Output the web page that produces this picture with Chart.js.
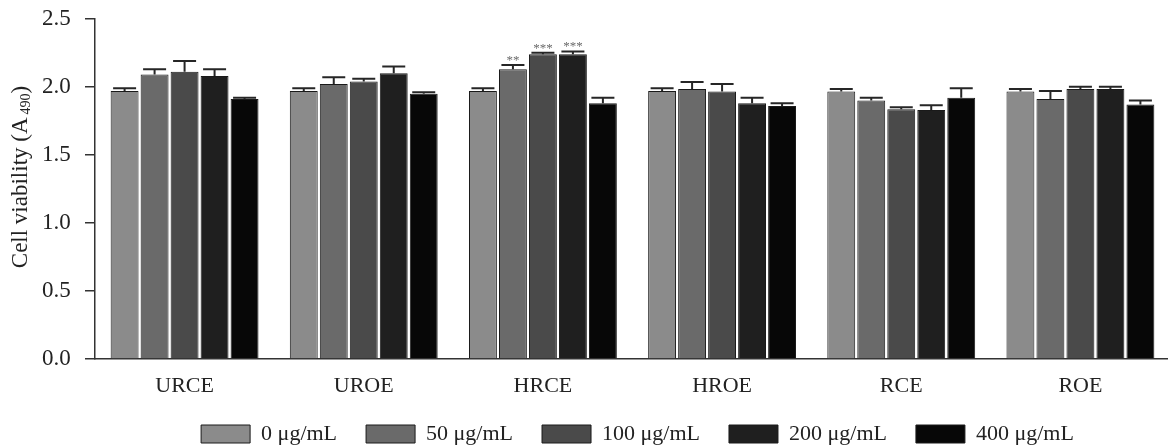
<!DOCTYPE html>
<html>
<head>
<meta charset="utf-8">
<script src="https://cdn.jsdelivr.net/npm/chart.js@4/dist/chart.umd.min.js"></script>
<style>
html,body{margin:0;padding:0;background:#fff;overflow:hidden;width:1168px;height:448px}
#wrap{width:1170px;height:448px;position:relative}
canvas{display:block}
</style>
</head>
<body>
<div id="wrap"><canvas id="c" width="1170" height="448"></canvas></div>
<script>
// ---- data ----
const categories = ['URCE', 'UROE', 'HRCE', 'HROE', 'RCE', 'ROE'];
const seriesLabels = ['0 \u03bcg/mL', '50 \u03bcg/mL', '100 \u03bcg/mL', '200 \u03bcg/mL', '400 \u03bcg/mL'];
const dose0   = [1.97, 1.97, 1.97, 1.97, 1.965, 1.965];
const dose50  = [2.09, 2.02, 2.13, 1.985, 1.90, 1.91];
const dose100 = [2.11, 2.04, 2.24, 1.965, 1.835, 1.985];
const dose200 = [2.08, 2.10, 2.24, 1.88, 1.83, 1.985];
const dose400 = [1.91, 1.95, 1.88, 1.86, 1.92, 1.87];
const err0   = [0.02, 0.02, 0.02, 0.02, 0.02, 0.02];
const err50  = [0.04, 0.05, 0.03, 0.05, 0.02, 0.06];
const err100 = [0.08, 0.02, 0.01, 0.055, 0.015, 0.015];
const err200 = [0.05, 0.05, 0.02, 0.04, 0.035, 0.015];
const err400 = [0.01, 0.01, 0.04, 0.02, 0.07, 0.03];
const sig0   = ['', '', '', '', '', ''];
const sig50  = ['', '', '**', '', '', ''];
const sig100 = ['', '', '***', '', '', ''];
const sig200 = ['', '', '***', '', '', ''];
const sig400 = ['', '', '', '', '', ''];
const yTicks = [0, 0.5, 1.0, 1.5, 2.0, 2.5];
const yTitleMain = 'Cell viability (A';
const yTitleSub = '490';
const yTitleEnd = ')';

const seriesValues = [dose0, dose50, dose100, dose200, dose400];
const seriesErrors = [err0, err50, err100, err200, err400];
const seriesSig = [sig0, sig50, sig100, sig200, sig400];
const fills = ['#8b8b8b', '#6a6a6a', '#4a4a4a', '#1f1f1f', '#070707'];

const SERIF = '"Liberation Serif", "Times New Roman", serif';

const errorBars = {
  id: 'errorBars',
  afterDatasetsDraw(chart) {
    const ctx = chart.ctx;
    const ys = chart.scales.y;
    ctx.save();
    chart.data.datasets.forEach((ds, i) => {
      const meta = chart.getDatasetMeta(i);
      meta.data.forEach((bar, j) => {
        const v = ds.data[j];
        const e = ds.errors[j];
        const yTop = ys.getPixelForValue(v);
        const yCap = ys.getPixelForValue(v + e);
        ctx.strokeStyle = '#262626';
        ctx.lineWidth = 2;
        ctx.beginPath();
        ctx.moveTo(bar.x, yTop);
        ctx.lineTo(bar.x, yCap);
        ctx.moveTo(bar.x - 11.5, yCap);
        ctx.lineTo(bar.x + 11.5, yCap);
        ctx.stroke();
        const s = ds.sig[j];
        if (s) {
          ctx.fillStyle = '#6a6a6a';
          ctx.font = '13px ' + SERIF;
          ctx.textAlign = 'center';
          ctx.textBaseline = 'alphabetic';
          ctx.fillText(s, bar.x, yCap - 1);
        }
      });
    });
    ctx.restore();
  }
};

const yTitle = {
  id: 'yTitle',
  afterDraw(chart) {
    const ctx = chart.ctx;
    ctx.save();
    ctx.translate(21, 177);
    ctx.rotate(-Math.PI / 2);
    ctx.fillStyle = '#222';
    ctx.textBaseline = 'middle';
    const fMain = '23px ' + SERIF, fSub = '14px ' + SERIF;
    ctx.font = fMain;
    const w1 = ctx.measureText(yTitleMain).width;
    const w3 = ctx.measureText(yTitleEnd).width;
    ctx.font = fSub;
    const w2 = ctx.measureText(yTitleSub).width + 3;
    const total = w1 + w2 + w3;
    let x = -total / 2;
    ctx.textAlign = 'left';
    ctx.font = fMain;
    ctx.fillText(yTitleMain, x, 0);
    x += w1 + 3;
    ctx.font = fSub;
    ctx.fillText(yTitleSub, x, 5);
    x += w2 - 3;
    ctx.font = fMain;
    ctx.fillText(yTitleEnd, x, 0);
    ctx.restore();
  }
};

const legendShift = {
  id: 'legendShift',
  afterLayout(chart) {
    if (chart.legend) {
      chart.legend.left += 5;
      chart.legend.right += 5;
    }
  }
};

new Chart(document.getElementById('c'), {
  type: 'bar',
  data: {
    labels: categories,
    datasets: seriesLabels.map((lab, i) => ({
      label: lab,
      data: seriesValues[i],
      errors: seriesErrors[i],
      sig: seriesSig[i],
      backgroundColor: fills[i],
      borderColor: '#1a1a1a',
      borderWidth: 1,
      categoryPercentage: 0.837,
      barPercentage: 0.93
    }))
  },
  options: {
    responsive: false,
    animation: false,
    devicePixelRatio: 1,
    layout: { padding: { top: 0, right: 0, left: 42, bottom: 0 } },
    plugins: {
      tooltip: { enabled: false },
      legend: {
        position: 'bottom',
        fullSize: false,
        maxHeight: 54,
        labels: {
          boxWidth: 49,
          boxHeight: 18,
          padding: 29,
          color: '#222',
          font: { family: SERIF, size: 22 }
        }
      }
    },
    scales: {
      x: {
        grid: { display: true, drawOnChartArea: false, drawTicks: false, color: '#333' },
        border: { display: true, color: '#333', width: 1.5 },
        ticks: { color: '#222', padding: 14, font: { family: SERIF, size: 22 } },
        afterFit(s) { s.height = 35; }
      },
      y: {
        min: 0,
        max: 2.5,
        afterBuildTicks(s) { s.ticks = yTicks.map(v => ({ value: v })); },
        grid: { display: true, drawOnChartArea: false, drawTicks: true, tickLength: 10, color: '#333', lineWidth: 1.5 },
        border: { display: true, color: '#333', width: 1.5 },
        ticks: {
          color: '#222',
          padding: 5,
          crossAlign: 'far',
          font: { family: SERIF, size: 23 },
          callback: v => Number(v).toFixed(1)
        },
        afterFit(s) { s.width = 53; }
      }
    }
  },
  plugins: [errorBars, yTitle, legendShift]
});
</script>
</body>
</html>
